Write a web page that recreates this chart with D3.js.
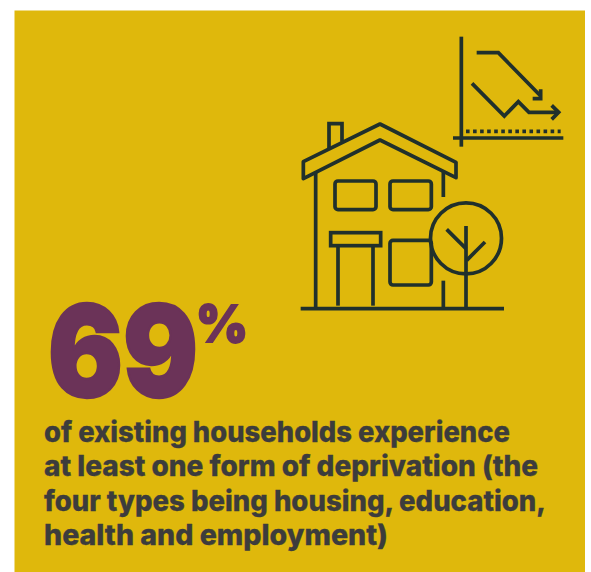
<!DOCTYPE html>
<html>
<head>
<meta charset="utf-8">
<script src="https://cdn.jsdelivr.net/npm/d3@7"></script>
<style>
  html, body { margin: 0; padding: 0; background: #fff; }
  svg { display: block; }
</style>
</head>
<body>
<svg id="card" width="591" height="572"></svg>
<script>
// Headline figure and caption
const shareValue = [69];
const shareUnit = ["%"];
const captionLines = [
  "of existing households experience",
  "at least one form of deprivation (the",
  "four types being housing, education,",
  "health and employment)"
];
const captionWidths = [466, 494, 502, 344];
const captionBaselines = [441.5, 475.5, 510.5, 545];

const panelColor = "#dfb80c";
const figureColor = "#6b3358";
const captionColor = "#3c3c3c";
const iconColor = "#20302c";
const textFont = "Inter, 'Open Sans', sans-serif";

const svg = d3.select("#card");
svg.append("rect").attr("x", 14.5).attr("y", 10.5).attr("width", 570.5).attr("height", 561.5).attr("fill", panelColor);

// Icon geometry is authored on a 3x grid, mapped onto the card by two scales.
const ix = d3.scaleLinear().domain([0, 870]).range([290, 580]);
const iy = d3.scaleLinear().domain([0, 900]).range([20, 320]);
const line = d3.line().x(d => ix(d[0])).y(d => iy(d[1]));
const icon = svg.append("g").attr("fill", "none").attr("stroke", iconColor).attr("stroke-width", 3.7);

const strokes = [
  [[514, 50], [514, 380]],
  [[489, 354], [820, 354]],
  [[560, 98], [625, 98], [752, 228]],
  [[752, 208], [752, 236], [728, 236]],
  [[546, 190], [643, 288], [685, 245], [717, 277], [800, 277]],
  [[785, 256], [806, 277], [785, 298]],
  [[117, 385], [117, 311], [156, 311], [156, 365]],
  [[77, 455], [77, 866]],
  [[460, 455], [460, 531]],
  [[460, 782], [460, 866]],
  [[32, 866], [642, 866]],
  [[144, 677], [144, 857]],
  [[249, 677], [249, 857]],
  [[528, 618], [528, 866]],
  [[470, 628], [528, 686]],
  [[585, 666], [530, 721]]
];
icon.selectAll("path.stroke").data(strokes).join("path").attr("class", "stroke").attr("d", line);

// Dotted baseline of the small trend graph
icon.append("path").attr("d", line([[528, 334], [812, 334]])).attr("stroke-dasharray", "3.6 3.45");

// Roof outline
icon.append("path")
  .attr("d", line([[40, 425], [270, 312], [498, 427], [498, 473], [270, 360], [40, 476]]) + "Z")
  .attr("stroke-linejoin", "round");

// Windows and door canopy
const panes = [
  { x0: 135, x1: 258, y0: 483, y1: 569, r: 3 },
  { x0: 300, x1: 424, y0: 483, y1: 569, r: 3 },
  { x0: 300, x1: 424, y0: 661, y1: 795, r: 3 },
  { x0: 122, x1: 272, y0: 638, y1: 677, r: 0 }
];
icon.selectAll("rect").data(panes).join("rect")
  .attr("x", d => ix(d.x0)).attr("y", d => iy(d.y0))
  .attr("width", d => ix(d.x1) - ix(d.x0)).attr("height", d => iy(d.y1) - iy(d.y0))
  .attr("rx", d => d.r);

// Tree crown
icon.append("circle").attr("cx", ix(528)).attr("cy", iy(655)).attr("r", 35.5);

// Headline number
svg.append("text").datum(shareValue[0])
  .attr("x", 48).attr("y", 397)
  .attr("font-family", textFont).attr("font-weight", 900).attr("font-size", 127)
  .attr("fill", figureColor).attr("stroke", figureColor).attr("stroke-width", 2.5)
  .attr("textLength", 150).attr("lengthAdjust", "spacingAndGlyphs")
  .text(d => d);
svg.append("text").datum(shareUnit[0])
  .attr("x", 196).attr("y", 342)
  .attr("font-family", textFont).attr("font-weight", 900).attr("font-size", 51)
  .attr("fill", figureColor).attr("stroke", figureColor).attr("stroke-width", 1.8)
  .attr("textLength", 52).attr("lengthAdjust", "spacingAndGlyphs")
  .text(d => d);

// Caption
svg.selectAll("text.caption").data(captionLines).join("text")
  .attr("class", "caption")
  .attr("x", 44).attr("y", (d, i) => captionBaselines[i])
  .attr("font-family", textFont).attr("font-weight", 800).attr("font-size", 28)
  .attr("fill", captionColor).attr("stroke", captionColor).attr("stroke-width", 0.3)
  .attr("textLength", (d, i) => captionWidths[i]).attr("lengthAdjust", "spacingAndGlyphs")
  .text(d => d);
</script>
</body>
</html>
